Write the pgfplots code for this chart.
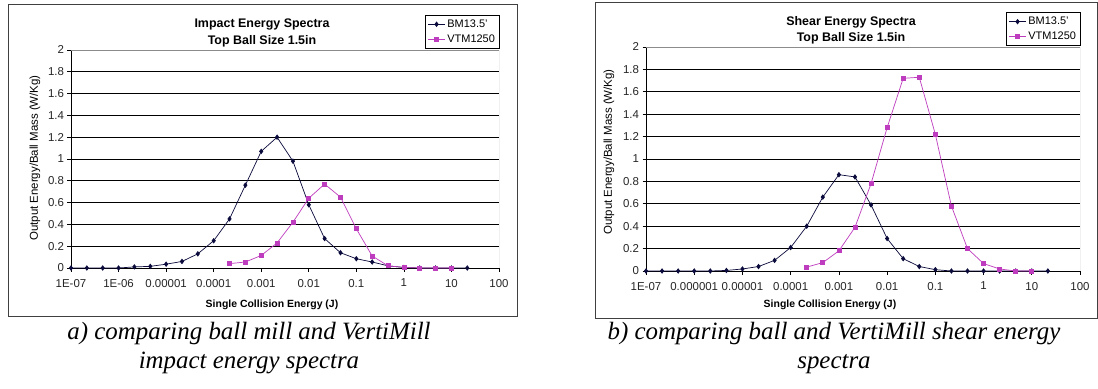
\documentclass[border=0pt]{standalone}
\usepackage{pgfplots}
\pgfplotsset{compat=1.18}
\usepackage{fontspec}
\setmainfont{Liberation Sans}
\newfontfamily\capfont{Liberation Serif}
\definecolor{bmcol}{RGB}{10,10,60}
\definecolor{vtmcol}{RGB}{190,60,190}

\begin{document}
\begin{tikzpicture}[x=1bp,y=1bp]
\useasboundingbox (0,0) rectangle (1098,388);
\fill[white] (0,0) rectangle (1098,388);

% ---------- left chart ----------
\draw[black!75, line width=1bp] (8,383) rectangle (517,72);
\node[font=\bfseries\fontsize{12.5}{13}\selectfont, align=center] at (262,355.5) {Impact Energy Spectra\\[4bp]Top Ball Size 1.5in};
\node[rotate=90, font=\fontsize{11.5}{12}\selectfont] at (35,230) {Output Energy/Ball Mass (W/Kg)};
\node[font=\bfseries\fontsize{10.5}{12}\selectfont] at (272,83) {Single Collision Energy (J)};
\begin{axis}[at={(71bp,120bp)}, anchor=south west, width=428bp, height=218bp,
    scale only axis,
    xmode=log, xmin=1e-7, xmax=100, ymin=0, ymax=2,
    xminorticks=false,
    xtick={1e-7,1e-6,1e-5,1e-4,1e-3,1e-2,1e-1,1,10,100},
    xticklabels={1E-07,1E-06,0.00001,0.0001,0.001,0.01,0.1,1,10,100},
    ytick={0,0.2,0.4,0.6,0.8,1,1.2,1.4,1.6,1.8,2},
    yticklabels={0,0.2,0.4,0.6,0.8,1,1.2,1.4,1.6,1.8,2},
    ymajorgrids, grid style={black, line width=0.7bp},
    axis x line*=bottom, axis y line*=left,
    axis line style={black, line width=0.8bp, -},
    tick align=outside, major tick length=3.5bp, tick style={black, line width=0.7bp},
    tick label style={font=\fontsize{11.5}{12}\selectfont, text=black!85},
    xticklabel style={yshift=-4bp},
    legend style={at={(1.002,1.005)}, anchor=south east, draw=black, line width=0.9bp,
      font=\fontsize{11}{12}\selectfont, inner xsep=2.5bp, inner ysep=2.5bp, row sep=2bp},
    legend cell align=left]
\addplot[color=bmcol, line width=0.7bp, mark=diamond*, mark size=2.2bp] coordinates {
(1e-7,0) (2.154e-7,0) (4.642e-7,0) (1e-6,0) (2.154e-6,0.01) (4.642e-6,0.015)
(1e-5,0.035) (2.154e-5,0.06) (4.642e-5,0.13) (1e-4,0.25) (2.154e-4,0.45) (4.642e-4,0.76)
(1e-3,1.07) (2.154e-3,1.20) (4.642e-3,0.98) (0.01,0.58) (0.02154,0.27) (0.04642,0.14)
(0.1,0.085) (0.2154,0.055) (0.4642,0.02) (1,0.005) (2.154,0) (4.642,0) (10,0) (21.54,0)};
\addlegendentry{BM13.5'}
\addplot[color=vtmcol, line width=0.7bp, mark=square*, mark size=2bp] coordinates {
(2.154e-4,0.04) (4.642e-4,0.055) (1e-3,0.115) (2.154e-3,0.23) (4.642e-3,0.42)
(0.01,0.64) (0.02154,0.77) (0.04642,0.65) (0.1,0.36) (0.2154,0.11) (0.4642,0.02)
(1,0.005) (2.154,0) (4.642,0) (10,0)};
\addlegendentry{VTM1250}
\draw[black!45, line width=0.8bp] (rel axis cs:0,1) -- (rel axis cs:1,1) -- (rel axis cs:1,0);
\end{axis}
\node[font=\capfont\itshape\fontsize{25}{30}\selectfont, align=center] at (249,40) {a) comparing ball mill and VertiMill\\impact energy spectra};

% ---------- right chart ----------
\draw[black!75, line width=1bp] (595,385) rectangle (1097,70);
\node[font=\bfseries\fontsize{12.5}{13}\selectfont, align=center] at (851,357.5) {Shear Energy Spectra\\[2.5bp]Top Ball Size 1.5in};
\node[rotate=90, font=\fontsize{11.5}{12}\selectfont] at (609,236) {Output Energy/Ball Mass (W/Kg)};
\node[font=\bfseries\fontsize{10.5}{12}\selectfont] at (830,83) {Single Collision Energy (J)};
\begin{axis}[at={(646bp,117bp)}, anchor=south west, width=434bp, height=224bp,
    scale only axis,
    xmode=log, xmin=1e-7, xmax=100, ymin=0, ymax=2,
    xminorticks=false,
    xtick={1e-7,1e-6,1e-5,1e-4,1e-3,1e-2,1e-1,1,10,100},
    xticklabels={1E-07,0.000001,0.00001,0.0001,0.001,0.01,0.1,1,10,100},
    ytick={0,0.2,0.4,0.6,0.8,1,1.2,1.4,1.6,1.8,2},
    yticklabels={0,0.2,0.4,0.6,0.8,1,1.2,1.4,1.6,1.8,2},
    ymajorgrids, grid style={black, line width=0.7bp},
    axis x line*=bottom, axis y line*=left,
    axis line style={black, line width=0.8bp, -},
    tick align=outside, major tick length=3.5bp, tick style={black, line width=0.7bp},
    tick label style={font=\fontsize{11.5}{12}\selectfont, text=black!85},
    xticklabel style={yshift=-4bp},
    legend style={at={(1.002,1.003)}, anchor=south east, draw=black, line width=0.9bp,
      font=\fontsize{11}{12}\selectfont, inner xsep=2.5bp, inner ysep=2.5bp, row sep=2bp},
    legend cell align=left]
\addplot[color=bmcol, line width=0.7bp, mark=diamond*, mark size=2.2bp] coordinates {
(1e-7,0) (2.154e-7,0) (4.642e-7,0) (1e-6,0) (2.154e-6,0) (4.642e-6,0.005)
(1e-5,0.018) (2.154e-5,0.04) (4.642e-5,0.095) (1e-4,0.21) (2.154e-4,0.40) (4.642e-4,0.66)
(1e-3,0.86) (2.154e-3,0.84) (4.642e-3,0.59) (0.01,0.29) (0.02154,0.11) (0.04642,0.04)
(0.1,0.012) (0.2154,0) (0.4642,0) (1,0) (2.154,0) (4.642,0) (10,0) (21.54,0)};
\addlegendentry{BM13.5'}
\addplot[color=vtmcol, line width=0.7bp, mark=square*, mark size=2bp] coordinates {
(2.154e-4,0.035) (4.642e-4,0.075) (1e-3,0.18) (2.154e-3,0.39) (4.642e-3,0.78)
(0.01,1.28) (0.02154,1.72) (0.04642,1.73) (0.1,1.22) (0.2154,0.58) (0.4642,0.20)
(1,0.066) (2.154,0.018) (4.642,0) (10,0)};
\addlegendentry{VTM1250}
\draw[black!45, line width=0.8bp] (rel axis cs:0,1) -- (rel axis cs:1,1) -- (rel axis cs:1,0);
\end{axis}
\node[font=\capfont\itshape\fontsize{25}{30}\selectfont, align=center] at (834,40) {b) comparing ball and VertiMill shear energy\\spectra};
\end{tikzpicture}
\end{document}
